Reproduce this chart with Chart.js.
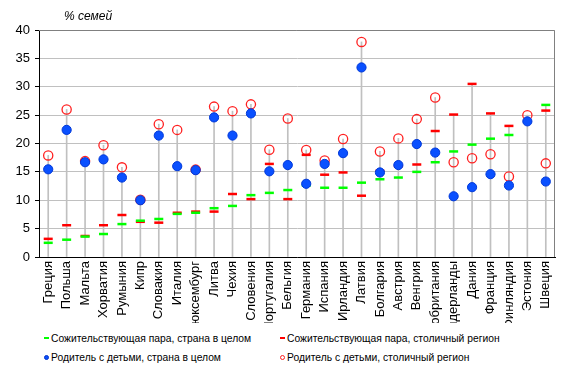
<!DOCTYPE html>
<html>
<head>
<meta charset="utf-8">
<script src="https://cdn.jsdelivr.net/npm/chart.js@4.4.1/dist/chart.umd.min.js"></script>
<style>
  body { margin: 0; background: #fff; font-family: "Liberation Sans", Arial, sans-serif; }
  #wrap { position: relative; width: 570px; height: 376px; }
  #chart { position: absolute; left: 0; top: 0; }
  .item { position: absolute; font-size: 10.3px; color: #000; white-space: nowrap; line-height: 14px; }
  .mk { display: inline-block; vertical-align: middle; margin-right: 2px; position: relative; top: -1px; }
  .dash { width: 5px; height: 2px; }
  .dot { width: 5px; height: 5px; border-radius: 50%; box-sizing: border-box; }
</style>
</head>
<body>
<div id="wrap">
  <canvas id="chart" width="570" height="323"></canvas>
  <div class="item" style="left:44px;top:332px"><span class="mk dash" style="background:#00ff00"></span>Сожительствующая пара, страна в целом</div>
  <div class="item" style="left:280px;top:332px"><span class="mk dash" style="background:#ff0000"></span>Сожительствующая пара, столичный регион</div>
  <div class="item" style="left:44px;top:351px"><span class="mk dot" style="background:#0a50ff;border:1px solid #0033cc"></span>Родитель с детьми, страна в целом</div>
  <div class="item" style="left:280px;top:351px"><span class="mk dot" style="border:1px solid #ff2020"></span>Родитель с детьми, столичный регион</div>
</div>
<script>
const countries = ['Греция', 'Польша', 'Мальта', 'Хорватия', 'Румыния', 'Кипр', 'Словакия', 'Италия',
  'Люксембург', 'Литва', 'Чехия', 'Словения', 'Португалия', 'Бельгия', 'Германия', 'Испания',
  'Ирландия', 'Латвия', 'Болгария', 'Австрия', 'Венгрия', 'Великобритания', 'Нидерланды', 'Дания',
  'Франция', 'Финляндия', 'Эстония', 'Швеция']

// Сожительствующая пара
const coupleCountry = [2.5, 3.05, 3.6, 4.05, 5.8, 6.4, 6.7, 7.6, 7.8, 8.6, 9.0, 10.9, 11.3, 11.8,
  12.6, 12.2, 12.2, 13.1, 13.7, 14.0, 15.0, 16.7, 18.6, 19.8, 20.85, 21.5, null, 26.8]
const coupleCapital = [3.2, 5.6, 3.7, 5.6, 7.4, 6.2, 6.05, 7.8, 8.0, 8.0, 11.1, 10.2, 16.4, 10.2,
  18.0, 14.5, 14.9, 10.8, 15.2, 16.0, 16.3, 22.2, 25.1, 30.5, 25.3, 23.1, null, 25.8]

// Родитель с детьми
const parentCountry = [15.45, 22.4, 16.7, 17.2, 14.0, 10.0, 21.4, 16.0, 15.3, 24.6, 21.4, 25.3, 15.1, 16.2,
  12.9, 16.4, 18.3, 33.4, 14.9, 16.2, 19.9, 18.4, 10.7, 12.3, 14.6, 12.6, 23.9, 13.3]
const parentCapital = [17.9, 26.0, 16.9, 19.7, 15.8, 10.1, 23.4, 22.4, 15.4, 26.5, 25.7, 26.9, 18.9, 24.4,
  18.85, 17.0, 20.8, 37.9, 18.6, 20.9, 24.3, 28.1, 16.7, 17.4, 18.1, 14.2, 25.0, 16.5]

const yTicks = [0, 5, 10, 15, 20, 25, 30, 35, 40]
const yTitle = '% семей'

// high-low lines: from 0 up to the largest of the four values
const highLow = countries.map((_, i) =>
  Math.max(...[coupleCountry[i], coupleCapital[i], parentCountry[i], parentCapital[i]].filter(v => v != null)))

const FONT = '"Liberation Sans", Arial, sans-serif'

// category axis whose long labels get cut at the bottom edge, like the original
class ClippedCategoryScale extends Chart.CategoryScale {
  drawLabels(area) {
    const ctx = this.ctx
    ctx.save()
    ctx.beginPath()
    ctx.rect(this.left - 20, this.top, this.width + 40, this.height)
    ctx.clip()
    super.drawLabels(area)
    ctx.restore()
  }
}
ClippedCategoryScale.id = 'clippedCategory'
ClippedCategoryScale.defaults = Chart.CategoryScale.defaults
Chart.register(ClippedCategoryScale)

const frame = {
  id: 'frame',
  beforeDatasetsDraw(chart) {
    const { ctx, chartArea: a } = chart
    ctx.save()
    ctx.strokeStyle = '#808080'
    ctx.lineWidth = 1
    ctx.beginPath()
    ctx.moveTo(a.left, a.top + 0.5)
    ctx.lineTo(a.right - 0.5, a.top + 0.5)
    ctx.lineTo(a.right - 0.5, a.bottom)
    ctx.stroke()
    ctx.restore()
  },
  afterDraw(chart) {
    const { ctx, chartArea: a } = chart
    ctx.save()
    ctx.font = 'italic 12px ' + FONT
    ctx.fillStyle = '#000'
    ctx.textBaseline = 'middle'
    ctx.fillText(yTitle, a.left + 25, a.top - 13)
    ctx.restore()
  },
}

new Chart(document.getElementById('chart'), {
  type: 'bar',
  data: {
    labels: countries,
    datasets: [
      {
        type: 'line',
        label: 'Родитель с детьми, страна в целом',
        data: parentCountry,
        showLine: false,
        pointStyle: 'circle',
        pointRadius: 4.6,
        pointBackgroundColor: '#0a50ff',
        pointBorderColor: '#0038d8',
        pointBorderWidth: 1,
        order: 1,
      },
      {
        type: 'line',
        label: 'Сожительствующая пара, страна в целом',
        data: coupleCountry,
        showLine: false,
        pointStyle: 'line',
        pointRadius: 4.5,
        pointBorderColor: '#00ff00',
        pointBorderWidth: 2.5,
        order: 2,
      },
      {
        type: 'line',
        label: 'Сожительствующая пара, столичный регион',
        data: coupleCapital,
        showLine: false,
        pointStyle: 'line',
        pointRadius: 4.5,
        pointBorderColor: '#ff0000',
        pointBorderWidth: 2.5,
        order: 3,
      },
      {
        type: 'line',
        label: 'Родитель с детьми, столичный регион',
        data: parentCapital,
        showLine: false,
        pointStyle: 'circle',
        pointRadius: 4.6,
        pointBackgroundColor: 'rgba(255,255,255,0)',
        pointBorderColor: '#ff2020',
        pointBorderWidth: 1.3,
        order: 4,
      },
      {
        label: 'high-low',
        data: highLow,
        backgroundColor: '#c0c0c0',
        barThickness: 1,
        order: 5,
      },
    ],
  },
  options: {
    responsive: false,
    animation: false,
    events: [],
    layout: { padding: { top: 30, right: 15, bottom: 0, left: 0 } },
    plugins: {
      legend: { display: false },
      tooltip: { enabled: false },
    },
    scales: {
      x: {
        type: 'clippedCategory',
        offset: true,
        grid: { display: false, drawTicks: false },
        border: { color: '#000', width: 1 },
        ticks: {
          autoSkip: false,
          minRotation: 90,
          maxRotation: 90,
          padding: 4,
          color: '#000',
          font: { family: FONT, size: 13 },
        },
        afterFit(scale) { scale.height = 66 },
      },
      y: {
        min: 0,
        max: 40,
        afterBuildTicks(scale) { scale.ticks = yTicks.map(v => ({ value: v })) },
        grid: { color: '#c0c0c0', tickLength: 4, tickColor: '#000' },
        border: { color: '#000', width: 1 },
        ticks: {
          padding: 5,
          color: '#000',
          font: { family: FONT, size: 13 },
        },
        afterFit(scale) { scale.width = 39 },
      },
    },
  },
  plugins: [frame],
})
</script>
</body>
</html>
